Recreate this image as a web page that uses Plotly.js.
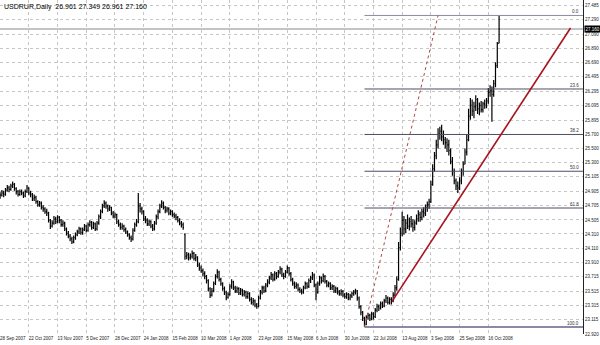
<!DOCTYPE html>
<html>
<head>
<meta charset="utf-8">
<script src="https://cdn.plot.ly/plotly-3.0.1.min.js"></script>
<style>html,body{margin:0;padding:0;background:#fff;}#chart{width:600px;height:345px;}</style>
</head>
<body>
<div id="chart"></div>
<script>
// ---- Data (USDRUR, Daily bars) ----
const symbolTitle = "USDRUR,Daily\u00a0 26.961 27.349 26.961 27.160";

const opens = [
24.82,24.85,24.88,24.86,24.92,24.95,24.93,24.98,25.00,24.94,
24.90,24.86,24.90,24.88,24.84,24.90,24.95,24.88,24.86,24.80,
24.82,24.76,24.72,24.74,24.68,24.66,24.62,24.60,24.50,24.42,
24.46,24.52,24.48,24.54,24.50,24.44,24.46,24.38,24.32,24.28,
24.24,24.20,24.26,24.30,24.34,24.38,24.33,24.37,24.42,24.36,
24.44,24.47,24.40,24.45,24.38,24.46,24.55,24.62,24.70,24.74,
24.70,24.66,24.68,24.60,24.56,24.58,24.48,24.44,24.40,24.42,
24.37,24.34,24.30,24.26,24.24,24.36,24.44,24.48,24.70,24.66,
24.62,24.52,24.50,24.45,24.48,24.42,24.38,24.46,24.55,24.62,
24.70,24.74,24.68,24.64,24.66,24.60,24.62,24.58,24.56,24.54,
24.50,24.46,24.44,24.30,24.00,24.02,23.98,24.00,24.04,23.97,
23.99,23.88,23.84,23.80,23.76,23.72,23.66,23.55,23.46,23.52,
23.62,23.72,23.78,23.68,23.62,23.55,23.50,23.43,23.47,23.58,
23.64,23.56,23.52,23.55,23.49,23.53,23.47,23.50,23.44,23.48,
23.40,23.36,23.38,23.32,23.30,23.42,23.50,23.56,23.52,23.60,
23.64,23.70,23.74,23.68,23.76,23.72,23.78,23.82,23.74,23.72,
23.78,23.84,23.76,23.68,23.62,23.58,23.60,23.54,23.52,23.50,
23.56,23.62,23.58,23.66,23.70,23.74,23.60,23.50,23.62,23.70,
23.66,23.72,23.65,23.60,23.62,23.56,23.58,23.52,23.55,23.50,
23.48,23.51,23.46,23.44,23.47,23.42,23.45,23.48,23.50,23.52,
23.42,23.30,23.22,23.14,23.06,23.15,23.18,23.13,23.20,23.16,
23.25,23.30,23.28,23.34,23.31,23.38,23.42,23.36,23.40,23.38,
23.46,23.56,23.68,24.12,24.32,24.50,24.38,24.46,24.42,24.48,
24.45,24.40,24.46,24.52,24.58,24.54,24.62,24.60,24.68,24.72,
24.76,25.00,25.22,25.40,25.55,25.70,25.74,25.66,25.62,25.58,
25.55,25.47,25.32,25.18,25.05,24.98,24.95,25.05,25.18,25.28,
25.45,25.62,25.95,26.10,26.02,26.08,26.18,26.05,26.10,26.04,
26.12,26.10,26.16,26.28,26.30,26.25,26.40,26.65,26.961];

const highs = [
24.89,24.92,24.91,24.95,24.99,24.98,25.01,25.04,25.02,24.96,
24.92,24.93,24.93,24.90,24.93,24.99,24.96,24.91,24.88,24.86,
24.84,24.78,24.77,24.76,24.71,24.68,24.66,24.62,24.52,24.50,
24.56,24.55,24.57,24.56,24.52,24.50,24.48,24.40,24.35,24.31,
24.27,24.29,24.33,24.37,24.41,24.40,24.40,24.45,24.44,24.47,
24.50,24.49,24.48,24.47,24.49,24.58,24.65,24.73,24.78,24.76,
24.72,24.71,24.69,24.63,24.61,24.59,24.51,24.47,24.46,24.44,
24.40,24.36,24.32,24.29,24.39,24.47,24.52,24.88,24.74,24.69,
24.64,24.56,24.53,24.51,24.50,24.45,24.49,24.58,24.65,24.73,
24.78,24.76,24.70,24.69,24.68,24.65,24.64,24.61,24.59,24.56,
24.53,24.49,24.47,24.32,24.06,24.05,24.04,24.08,24.06,24.03,
24.00,23.91,23.87,23.83,23.79,23.74,23.68,23.57,23.56,23.65,
23.75,23.82,23.80,23.70,23.64,23.58,23.52,23.50,23.61,23.68,
23.66,23.59,23.58,23.57,23.56,23.55,23.53,23.52,23.51,23.50,
23.43,23.42,23.40,23.35,23.45,23.53,23.59,23.59,23.63,23.68,
23.73,23.78,23.76,23.79,23.78,23.81,23.86,23.84,23.77,23.81,
23.87,23.85,23.78,23.70,23.65,23.64,23.62,23.57,23.55,23.59,
23.65,23.64,23.69,23.73,23.78,23.76,23.62,23.65,23.73,23.72,
23.76,23.74,23.67,23.65,23.64,23.61,23.60,23.58,23.57,23.53,
23.54,23.53,23.49,23.50,23.49,23.48,23.51,23.53,23.55,23.53,
23.44,23.32,23.24,23.16,23.18,23.21,23.20,23.23,23.22,23.28,
23.34,23.33,23.37,23.37,23.41,23.46,23.44,23.43,23.43,23.50,
23.60,23.72,24.20,24.40,24.62,24.56,24.52,24.58,24.54,24.56,
24.52,24.50,24.58,24.64,24.62,24.66,24.68,24.72,24.76,24.80,
25.05,25.28,25.45,25.62,25.78,25.80,25.83,25.75,25.66,25.64,
25.62,25.50,25.38,25.22,25.08,25.04,25.10,25.22,25.32,25.50,
25.70,26.05,26.20,26.18,26.15,26.24,26.20,26.14,26.16,26.15,
26.18,26.20,26.34,26.38,26.36,26.45,26.70,26.98,27.349];

const lows = [
24.80,24.83,24.82,24.84,24.90,24.89,24.91,24.95,24.91,24.86,
24.83,24.84,24.85,24.81,24.82,24.88,24.85,24.82,24.77,24.77,
24.73,24.69,24.69,24.65,24.62,24.59,24.56,24.47,24.38,24.40,
24.44,24.45,24.46,24.46,24.41,24.41,24.35,24.29,24.25,24.21,
24.17,24.18,24.23,24.28,24.31,24.30,24.30,24.35,24.33,24.34,
24.41,24.37,24.38,24.35,24.36,24.44,24.52,24.60,24.67,24.66,
24.62,24.63,24.57,24.53,24.53,24.45,24.41,24.37,24.37,24.34,
24.31,24.27,24.23,24.20,24.22,24.34,24.41,24.46,24.61,24.58,
24.49,24.46,24.42,24.42,24.39,24.35,24.36,24.44,24.52,24.60,
24.67,24.65,24.60,24.61,24.57,24.57,24.55,24.53,24.50,24.47,
24.43,24.40,24.37,23.95,23.96,23.94,23.95,23.97,23.94,23.93,
23.85,23.80,23.77,23.72,23.68,23.62,23.51,23.42,23.44,23.50,
23.60,23.69,23.65,23.59,23.52,23.46,23.39,23.41,23.45,23.55,
23.53,23.49,23.49,23.46,23.46,23.44,23.44,23.41,23.41,23.37,
23.33,23.32,23.29,23.27,23.29,23.40,23.47,23.49,23.50,23.57,
23.61,23.67,23.65,23.66,23.68,23.70,23.75,23.71,23.68,23.70,
23.76,23.73,23.65,23.59,23.55,23.55,23.51,23.49,23.47,23.48,
23.54,23.55,23.56,23.63,23.67,23.57,23.39,23.48,23.59,23.62,
23.64,23.62,23.57,23.57,23.53,23.53,23.49,23.49,23.47,23.45,
23.45,23.43,23.41,23.41,23.39,23.39,23.42,23.45,23.47,23.38,
23.27,23.18,23.10,23.02,23.04,23.12,23.10,23.11,23.12,23.14,
23.22,23.24,23.26,23.28,23.29,23.35,23.33,23.33,23.33,23.36,
23.44,23.52,23.66,24.08,24.28,24.30,24.32,24.38,24.36,24.40,
24.34,24.36,24.44,24.48,24.48,24.50,24.54,24.56,24.62,24.66,
24.74,24.98,25.18,25.35,25.50,25.62,25.60,25.55,25.50,25.45,
25.40,25.28,25.12,25.00,24.92,24.88,24.92,25.00,25.12,25.28,
25.40,25.60,25.90,25.95,25.92,26.02,25.98,25.96,26.00,26.00,
26.05,26.06,26.12,26.22,25.87,26.22,26.35,26.62,26.961];

const closes = [
24.85,24.88,24.86,24.92,24.95,24.93,24.98,25.00,24.94,24.90,
24.86,24.90,24.88,24.84,24.90,24.95,24.88,24.86,24.80,24.82,
24.76,24.72,24.74,24.68,24.66,24.62,24.60,24.50,24.42,24.46,
24.52,24.48,24.54,24.50,24.44,24.46,24.38,24.32,24.28,24.24,
24.20,24.26,24.30,24.34,24.38,24.33,24.37,24.42,24.36,24.44,
24.47,24.40,24.45,24.38,24.46,24.55,24.62,24.70,24.74,24.70,
24.66,24.68,24.60,24.56,24.58,24.48,24.44,24.40,24.42,24.37,
24.34,24.30,24.26,24.24,24.36,24.44,24.48,24.70,24.66,24.62,
24.52,24.50,24.45,24.48,24.42,24.38,24.46,24.55,24.62,24.70,
24.74,24.68,24.64,24.66,24.60,24.62,24.58,24.56,24.54,24.50,
24.46,24.44,24.40,24.00,24.02,23.98,24.00,24.04,23.97,23.99,
23.88,23.84,23.80,23.76,23.72,23.66,23.55,23.46,23.52,23.62,
23.72,23.78,23.68,23.62,23.55,23.50,23.43,23.47,23.58,23.64,
23.56,23.52,23.55,23.49,23.53,23.47,23.50,23.44,23.48,23.40,
23.36,23.38,23.32,23.30,23.42,23.50,23.56,23.52,23.60,23.64,
23.70,23.74,23.68,23.76,23.72,23.78,23.82,23.74,23.72,23.78,
23.84,23.76,23.68,23.62,23.58,23.60,23.54,23.52,23.50,23.56,
23.62,23.58,23.66,23.70,23.74,23.60,23.50,23.62,23.70,23.66,
23.72,23.65,23.60,23.62,23.56,23.58,23.52,23.55,23.50,23.48,
23.51,23.46,23.44,23.47,23.42,23.45,23.48,23.50,23.52,23.42,
23.30,23.22,23.14,23.06,23.15,23.18,23.13,23.20,23.16,23.25,
23.30,23.28,23.34,23.31,23.38,23.42,23.36,23.40,23.38,23.46,
23.56,23.68,24.12,24.32,24.50,24.38,24.46,24.42,24.48,24.45,
24.40,24.46,24.52,24.58,24.54,24.62,24.60,24.68,24.72,24.76,
25.00,25.22,25.40,25.55,25.70,25.74,25.66,25.62,25.58,25.55,
25.47,25.32,25.18,25.05,24.98,24.95,25.05,25.18,25.28,25.45,
25.62,25.95,26.10,26.02,26.08,26.18,26.05,26.10,26.04,26.12,
26.10,26.16,26.28,26.30,26.25,26.40,26.65,26.96,27.160];

// date labels every 16 bars
const dateLabels = ["28 Sep 2007","22 Oct 2007","13 Nov 2007","5 Dec 2007","28 Dec 2007",
"24 Jan 2008","15 Feb 2008","10 Mar 2008","1 Apr 2008","23 Apr 2008","15 May 2008",
"6 Jun 2008","30 Jun 2008","22 Jul 2008","13 Aug 2008","3 Sep 2008","25 Sep 2008","16 Oct 2008"];
const barsPerLabel = 16;

// price scale labels
const priceTicks = [27.485,27.290,27.090,26.890,26.690,26.495,26.295,26.095,25.895,25.700,
25.500,25.300,25.105,24.905,24.705,24.505,24.310,24.110,23.910,23.715,23.515,23.315,23.115,22.920];

const lastPrice = 27.160;

// Fibonacci retracement anchors (bar index, price)
const fibAnchorIdx = [203, 244];
const fibAnchorPrice = [23.016, 27.349];
const fibLevels = [0, 0.236, 0.382, 0.5, 0.618, 1];

// trend line anchors (bar index, price)
const trendIdx = [218.3, 317.8];
const trendPrice = [23.37, 27.175];

// ---- build ----
const barIndex = closes.map((_, i) => i);
const tickVals = dateLabels.map((_, k) => k * barsPerLabel);
const xRange = [-0.05, 324.75];
const yRange = [22.919, 27.564];

const trace = {
  type: 'ohlc', x: barIndex, open: opens, high: highs, low: lows, close: closes,
  increasing: {line: {color: '#000', width: 1.2}},
  decreasing: {line: {color: '#000', width: 1.2}},
  tickwidth: 0.45, hoverinfo: 'skip', showlegend: false
};

const shapes = [];
const annotations = [];
// last price line
shapes.push({type: 'line', xref: 'paper', yref: 'y', x0: 0, x1: 1, y0: lastPrice, y1: lastPrice,
  line: {color: '#c4c4c4', width: 2}, layer: 'below'});

const fHi = fibAnchorPrice[1], fLo = fibAnchorPrice[0];
fibLevels.forEach(lv => {
  const p = fHi - lv * (fHi - fLo);
  const edge = (lv === 0 || lv === 1);
  shapes.push({type: 'line', xref: 'x', yref: 'y', x0: fibAnchorIdx[0], x1: xRange[1], y0: p, y1: p,
    line: {color: edge ? '#8a8aa6' : '#4e4e66', width: lv === 1 ? 2 : 1}});
  annotations.push({xref: 'paper', yref: 'y', x: 0.996, y: p, xanchor: 'right', yanchor: 'bottom',
    text: (lv * 100).toFixed(1), showarrow: false, font: {size: 4.5, color: '#333'}, yshift: -1});
});
// fibo base (dotted)
shapes.push({type: 'line', xref: 'x', yref: 'y', x0: fibAnchorIdx[0], x1: fibAnchorIdx[1],
  y0: fibAnchorPrice[0], y1: fibAnchorPrice[1], line: {color: '#b04848', width: 1, dash: 'dot'}});
// trend line
shapes.push({type: 'line', xref: 'x', yref: 'y', x0: trendIdx[0], x1: trendIdx[1],
  y0: trendPrice[0], y1: trendPrice[1], line: {color: '#a8141c', width: 1.6}});

annotations.push({xref: 'paper', yref: 'paper', x: 0.003, y: 0.998, xanchor: 'left', yanchor: 'top',
  text: symbolTitle, showarrow: false, font: {size: 7, color: '#000'}});
annotations.push({xref: 'paper', yref: 'y', x: 1, y: lastPrice, xanchor: 'left', yanchor: 'middle',
  xshift: 1, text: lastPrice.toFixed(3), showarrow: false, bgcolor: '#000', borderpad: 0.5,
  font: {size: 4.5, color: '#fff'}});

const layout = {
  width: 600, height: 345,
  margin: {l: 0, r: 17, t: 0, b: 11, pad: 0},
  paper_bgcolor: '#fff', plot_bgcolor: '#fff',
  showlegend: false,
  font: {family: 'Liberation Sans, Arial, sans-serif', size: 4.5, color: '#222'},
  xaxis: {
    range: xRange, rangeslider: {visible: false}, tickmode: 'array', tickvals: tickVals, ticktext: dateLabels,
    ticklabelposition: 'outside right', tickangle: 0, ticks: '', showgrid: true, gridcolor: '#c6c6c6', griddash: 'dot',
    gridwidth: 1, zeroline: false, showline: false, tickfont: {size: 4.5, color: '#222'}, fixedrange: true
  },
  yaxis: {
    side: 'right', range: yRange, tickmode: 'array', tickvals: priceTicks,
    ticktext: priceTicks.map(v => v.toFixed(3)), ticks: '', showgrid: true, gridcolor: '#c6c6c6',
    griddash: 'dot', gridwidth: 1, zeroline: false, showline: true, linecolor: '#222', linewidth: 1,
    tickfont: {size: 4.5, color: '#222'}, fixedrange: true
  },
  shapes: shapes, annotations: annotations
};

Plotly.newPlot('chart', [trace], layout, {staticPlot: true, displayModeBar: false});
</script>
</body>
</html>
